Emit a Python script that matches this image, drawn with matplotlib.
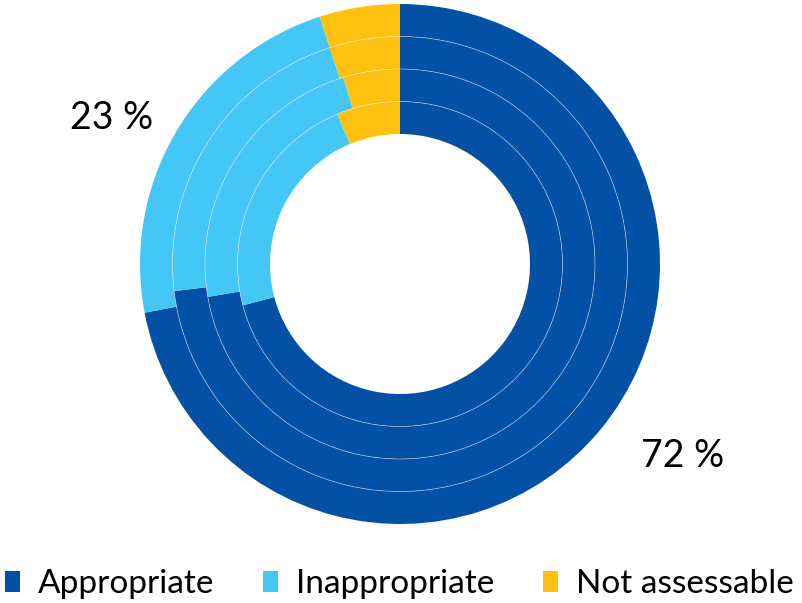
import matplotlib.pyplot as plt
from matplotlib.patches import Circle, Patch

plt.rcParams['font.family'] = ['Lato', 'DejaVu Sans']

categories = ["Appropriate", "Inappropriate", "Not assessable"]
colors = ["#0450A5", "#45C7F5", "#FFC010"]

# one list per ring, outermost first (percent)
ring_outer = [72, 23, 5]
ring_second = [73.1, 21.9, 5.0]
ring_third = [72.3, 23.0, 4.7]
ring_inner = [70.9, 22.8, 6.3]
rings = [ring_outer, ring_second, ring_third, ring_inner]

fig = plt.figure(figsize=(8.03, 6.03), dpi=100)
ax = fig.add_axes([0, 0, 1, 1])

center = (400, 339)
r_outer = 260
width = 32.5

for i, values in enumerate(rings):
    r = r_outer - i * width
    ax.pie(values, colors=colors, radius=r, center=center, startangle=90,
           counterclock=False, frame=True,
           wedgeprops=dict(width=width, linewidth=0))
    if i > 0:
        # faint separator between neighbouring rings
        ax.add_patch(Circle(center, r, fill=False, edgecolor='white',
                            linewidth=0.5, alpha=0.55, zorder=5))

ax.set_xlim(0, 803)
ax.set_ylim(0, 603)
ax.set_aspect('equal')
ax.axis('off')

ax.text(683, 147, f"{ring_outer[0]} %", fontsize=27, ha='center', va='center')
ax.text(112, 485, f"{ring_outer[1]} %", fontsize=27, ha='center', va='center')

handles = [Patch(facecolor=c, edgecolor='none') for c in colors]
fig.legend(handles, categories, loc='lower left', bbox_to_anchor=(5 / 803, 4 / 603),
           ncol=3, frameon=False, fontsize=24, handlelength=0.45, handleheight=0.6,
           handletextpad=0.55, columnspacing=1.45, borderaxespad=0, borderpad=0)

fig.savefig("out.png", dpi=100)
